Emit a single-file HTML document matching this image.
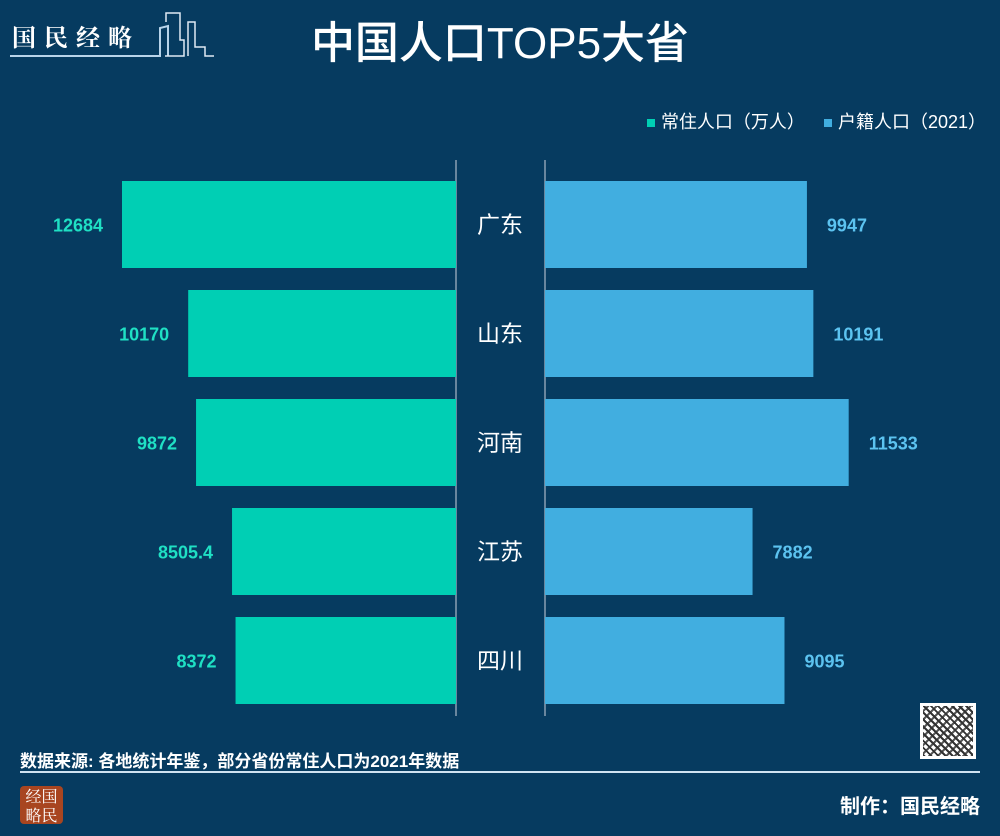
<!DOCTYPE html>
<html><head><meta charset="utf-8"><style>
body{margin:0;width:1000px;height:836px;background:#063b60;overflow:hidden;font-family:"Liberation Sans","Noto Sans CJK SC",sans-serif;position:relative}
.a{position:absolute}
</style></head><body>
<div class="a" style="left:12px;top:18px;color:#fff;font-family:'Noto Serif CJK SC',serif;font-size:24px;font-weight:bold;letter-spacing:8px">国民经略</div>
<svg class="a" style="left:0;top:0" width="220" height="62"><polyline points="10,56 160,56 160,28 168,26 168,56" fill="none" stroke="#b8d4ea" stroke-width="2"/><polyline points="166,22 166,13 180,13 180,40 184,40 184,56 165,56" fill="none" stroke="#dfeaf4" stroke-width="1.5"/><polyline points="188,56 188,22 195,22 195,47 205,47 205,56 214,56" fill="none" stroke="#dfeaf4" stroke-width="1.5"/></svg>
<div class="a" style="left:0;width:1000px;top:16px;text-align:center;color:#fff;font-size:44px;font-weight:500;line-height:56px">中国人口TOP5大省</div>
<div class="a" style="right:14px;top:110px;color:#fff;font-size:18px;line-height:24px">
<span><span style="display:inline-block;width:8px;height:8px;background:#00cfb4;margin-right:6px;vertical-align:middle"></span>常住人口（万人）</span>
<span style="margin-left:14px"><span style="display:inline-block;width:8px;height:8px;background:#41aee0;margin-right:6px;vertical-align:middle"></span>户籍人口（2021）</span></div>
<svg class="a" id="chart" style="left:0;top:0" width="1000" height="836"></svg>
<div class="a" style="left:20px;top:747px;color:#fff;font-size:17px;font-weight:bold">数据来源: 各地统计年鉴，部分省份常住人口为2021年数据</div>
<div class="a" style="left:20px;top:771px;width:960px;height:2px;background:#cfe3f2"></div>
<div class="a" style="left:920px;top:703px;width:56px;height:56px;background:#fff;box-sizing:border-box;padding:3px">
<div style="width:50px;height:50px;background-image:repeating-linear-gradient(45deg,#333 0 2px,transparent 2px 5px),repeating-linear-gradient(-45deg,#555 0 2px,transparent 2px 6px)"></div></div>
<div class="a" style="left:20px;top:786px;width:43px;height:38px;background:#a84520;border-radius:4px;color:#fff;font-size:16px;line-height:19px;text-align:center;font-family:'Noto Serif CJK SC',serif">经国<br>略民</div>
<div class="a" style="right:20px;top:790px;color:#fff;font-size:20px;font-weight:bold">制作：国民经略</div>
<script>
const provinces=["广东","山东","河南","江苏","四川"];
const resident=[12684,10170,9872,8505.4,8372];
const hukou=[9947,10191,11533,7882,9095];
const residentLabels=["12684","10170","9872","8505.4","8372"];
const hukouLabels=["9947","10191","11533","7882","9095"];
const svg=document.getElementById('chart');const NS='http://www.w3.org/2000/svg';
const k=334/12684, y0=181, pitch=109, bh=87, lx=456, rx=545;
function sx(v){return v*k;}
function el(t,a){const e=document.createElementNS(NS,t);for(const n in a)e.setAttribute(n,a[n]);svg.appendChild(e);return e;}
let ax=el('line',{x1:lx,x2:lx,y1:160,y2:716,stroke:'#8a9fb2','stroke-width':1.5});

ax=el('line',{x1:rx,x2:rx,y1:160,y2:716,stroke:'#8a9fb2','stroke-width':1.5});

provinces.forEach((p,i)=>{const y=y0+i*pitch;
 let w=sx(resident[i]);
 let r=el('rect',{x:lx-w,y:y,width:w,height:bh,fill:'#00cfb4'});
 
 let t=el('text',{x:lx-w-19,y:y+bh/2+7,'text-anchor':'end',fill:'#1fe0c4','font-size':18,'font-weight':'bold'});t.textContent=residentLabels[i];
 
 w=sx(hukou[i]);
 r=el('rect',{x:rx,y:y,width:w,height:bh,fill:'#41aee0'});
 
 t=el('text',{x:rx+w+20,y:y+bh/2+7,fill:'#5cc3f0','font-size':18,'font-weight':'bold'});t.textContent=hukouLabels[i];
 
 t=el('text',{x:500,y:y+bh/2+8,'text-anchor':'middle',fill:'#fff','font-size':23});t.textContent=p;
 
});
</script>
</body></html>
